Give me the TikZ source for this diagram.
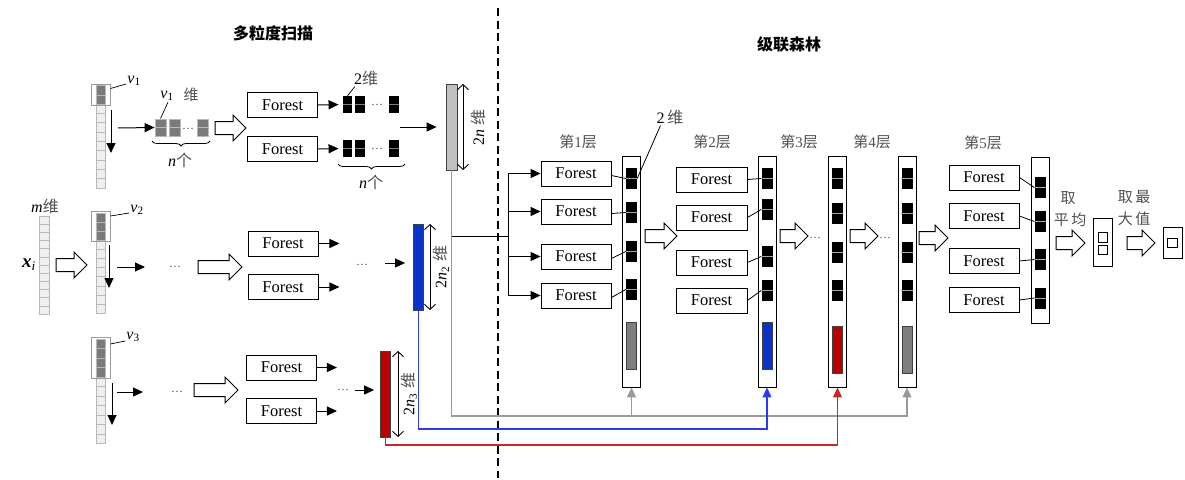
\documentclass[tikz,border=0pt]{standalone}
\usepackage{fontspec}
\setmainfont{Liberation Serif}
\newfontfamily\cjk{Noto Sans CJK SC}
\usetikzlibrary{arrows.meta,decorations.pathreplacing,calc}
\definecolor{cellbg}{HTML}{EFEFEF}
\definecolor{cellln}{HTML}{B8B8B8}
\definecolor{dcell}{HTML}{7A7A7A}
\definecolor{winln}{HTML}{9A9A9A}
\definecolor{lgbar}{HTML}{C0C0C0}
\definecolor{mgbar}{HTML}{7F7F7F}
\definecolor{bbar}{HTML}{0A33C8}
\definecolor{rbar}{HTML}{BB0000}
\definecolor{gline}{HTML}{9A9A9A}
\definecolor{bline}{HTML}{2A3AF0}
\definecolor{rline}{HTML}{C42A2A}
\definecolor{zhgrey}{HTML}{505050}
\newcommand\zh[1]{{\cjk\color{zhgrey}#1}}
\newcommand\harrow[3]{%
  \draw[hollow] ({#1},{#3-6.5}) -- ({#2-13},{#3-6.5}) -- ({#2-13},{#3-13}) -- ({#2},{#3}) -- ({#2-13},{#3+13}) -- ({#2-13},{#3+6.5}) -- ({#1},{#3+6.5}) -- cycle;}
\newcommand\vcol[5]{%
  \foreach \i in {1,...,#3} {\draw[cell] ({#1},{#2+(\i-1)*#4}) rectangle ++(#5,#4);}}
\newcommand\dcells[4]{%
  \foreach \i in {1,...,#3} {\draw[dcellst] ({#1},{#2+(\i-1)*#4}) rectangle ++(9,#4);}}
\newcommand\blkn[3]{\node[blk] (#1) at (#2,#3) {}; \draw[gray!70, line width=0.4pt] (#1.west) -- (#1.east);}
\newcommand\gel[3]{\node[gelst] (#1) at (#2,#3) {}; \draw[cellln, line width=0.6pt] (#1.west) -- (#1.east);}
\newcommand\ele[3]{\node[elest] (#1) at (#2,#3) {}; \draw[gray, line width=0.5pt] (#1.west) -- (#1.east);}
\tikzset{
  forest/.style={draw, line width=0.9pt, minimum width=70pt, minimum height=25pt, inner sep=0pt, font=\fontsize{16.5}{18}\selectfont},
  col/.style={draw, line width=0.9pt, fill=white, minimum width=18pt, inner sep=0pt},
  blk/.style={fill=black, minimum width=11pt, minimum height=21pt, inner sep=0pt},
  gelst/.style={fill=dcell, draw=cellln, line width=0.8pt, minimum width=11pt, minimum height=17pt, inner sep=0pt},
  elest/.style={fill=black, minimum width=9.5pt, minimum height=17pt, inner sep=0pt},
  bar/.style={draw=black!75, line width=0.8pt, minimum width=10pt, inner sep=0pt},
  arr/.style={-{Triangle[length=10pt,width=9pt]}, line width=1pt},
  carr/.style={-{Triangle[length=10pt,width=9pt]}, line width=1.1pt, draw=#1},
  hollow/.style={draw, line width=1pt, fill=white},
  cell/.style={fill=cellbg, draw=cellln, line width=0.5pt},
  dcellst/.style={fill=dcell, draw=cellln, line width=0.5pt},
  win/.style={draw=winln, line width=1pt, minimum width=19pt, inner sep=0pt},
  dim/.style={{Straight Barb[length=5pt,width=11pt]}-{Straight Barb[length=5pt,width=11pt]}, line width=0.9pt},
  zht/.style={inner sep=0pt, font=\fontsize{15}{17}\selectfont\cjk, text=zhgrey},
  lbl/.style={inner sep=0pt, font=\fontsize{16}{18}\selectfont},
  dots/.style={inner sep=0pt, font=\fontsize{12}{14}\selectfont, text=black!70},
  brace/.style={decorate, decoration={brace, mirror, amplitude=5pt}, line width=0.8pt},
  sq/.style={draw, line width=0.8pt, minimum width=9.5pt, minimum height=9.5pt, inner sep=0pt},
  obox/.style={draw, line width=0.9pt, minimum width=19pt, inner sep=0pt}
}
\begin{document}
\begin{tikzpicture}[x=1pt,y=-1pt]
\useasboundingbox (0,0) rectangle (1185,479);
% titles
\node[font=\fontsize{16}{18}\selectfont\cjk\bfseries] (t1) at (273,33) {多粒度扫描};
\node[font=\fontsize{16}{18}\selectfont\cjk\bfseries] (t2) at (789,44) {级联森林};
\draw[line width=1.2pt, dash pattern=on 8pt off 4.5pt] (498,8) -- (498,478);
% input vector
\vcol{39}{216}{12}{8.17}{10}
\node[lbl] (mlab) at (45,206) {\textit{m}\zh{维}};
\node[inner sep=0pt, font=\fontsize{19}{20}\selectfont] (xi) at (29,265) {\textbf{\textit{x}}\textsubscript{\textit{i}}};
\harrow{56}{87}{265}
% ---- row 1
\vcol{96}{85.5}{11}{9.3}{9}
\dcells{96}{85.5}{2}{9.3}
\node[win, minimum height=21.6pt] (w1) at (100.5,94.8) {};
\node[lbl] (v1) at (134,81) {\textit{v}\textsubscript{1}};
\draw[line width=0.7pt] ($(w1.north east)+(0,5)$) -- ($(v1.west)+(-1,3)$);
\draw[arr] (111,110) -- (111,153);
\gel{g11}{160.5}{127.5}
\gel{g12}{174.5}{127.5}
\gel{g13}{202.5}{127.5}
\node[dots] (dg) at (188,129) {…};
\draw[arr] (118,128) -- (g11.west);
\node[lbl] (v1b) at (167,96) {\textit{v}\textsubscript{1}};
\node[zht] (wv1) at (191,95) {维};
\draw[line width=0.7pt] (g11.north) -- ($(v1b.south)+(1,1)$);
\draw[brace] (152,141) -- (210,141);
\node[lbl] (n1) at (180,160) {\textit{n}\zh{个}};
\harrow{215}{246}{128}
\node[forest] (fa1) at (282.5,105) {Forest};
\node[forest] (fa2) at (282.5,149) {Forest};
\ele{e11}{347.5}{104.5}
\ele{e12}{360}{104.5}
\ele{e13}{394}{104.5}
\ele{e21}{347.5}{148.5}
\ele{e22}{360}{148.5}
\ele{e23}{394}{148.5}
\node[dots] (de1) at (377,105) {…};
\node[dots] (de2) at (377,149) {…};
\draw[arr, shorten >=4pt] (fa1.east) -- (e11.west);
\draw[arr, shorten >=4pt] (fa2.east) -- (e21.west);
\node[lbl] (l2a) at (366,78) {2\zh{维}};
\draw[line width=0.7pt] (e11.north) -- ($(l2a.south west)+(1,1)$);
\draw[brace] (338,164) -- (405,164);
\node[lbl] (n2) at (371,182) {\textit{n}\zh{个}};
\node[bar, fill=lgbar, minimum height=86pt, minimum width=11pt] (gbar) at (451.5,127) {};
\draw[arr, shorten >=9pt] (400,127) -- (gbar.west);
\draw[dim] (463,84) -- (463,170);
\node[lbl, rotate=90] (gdim) at (478,127) {2\textit{n} \zh{维}};
% ---- row 2
\vcol{96}{213}{11}{9.1}{9}
\dcells{96}{213}{3}{9.1}
\node[win, minimum height=30.3pt] (w2) at (100.5,226.65) {};
\node[lbl] (v2) at (137,210) {\textit{v}\textsubscript{2}};
\draw[line width=0.7pt] ($(w2.north east)+(0,5)$) -- ($(v2.west)+(-1,3)$);
\draw[arr] (109,245) -- (109,288);
\draw[arr] (117,267) -- (145,267);
\node[dots] (d21) at (175,267) {…};
\harrow{198}{242}{267}
\node[forest] (fb1) at (283,243.5) {Forest};
\node[forest] (fb2) at (283,287) {Forest};
\draw[arr] (fb1.east) -- ++(21,0);
\draw[arr] (fb2.east) -- ++(21,0);
\node[dots] (d22) at (362,265) {…};
\node[bar, fill=bbar, minimum height=86pt] (bbr) at (418.5,267) {};
\draw[arr, shorten >=8pt] (385,263) -- (bbr.west |- 0,263);
\draw[dim] (430,224) -- (430,310);
\node[lbl, rotate=90] (bdim) at (441,267) {2\textit{n}\textsubscript{2} \zh{维}};
% ---- row 3
\vcol{96}{339}{11}{9.5}{9}
\dcells{96}{339}{4}{9.5}
\node[win, minimum height=41pt] (w3) at (100.5,358) {};
\node[lbl] (v3) at (133,337) {\textit{v}\textsubscript{3}};
\draw[line width=0.7pt] ($(w3.north east)+(0,7)$) -- ($(v3.west)+(-1,4)$);
\draw[arr] (112,383) -- (112,425);
\draw[arr] (117,392) -- (143,392);
\node[dots] (d31) at (177,392) {…};
\harrow{194}{238}{390}
\node[forest] (fc1) at (281.5,367.5) {Forest};
\node[forest] (fc2) at (281.5,411) {Forest};
\draw[arr] (fc1.east) -- ++(20,0);
\draw[arr] (fc2.east) -- ++(20,0);
\node[dots] (d32) at (343,390) {…};
\node[bar, fill=rbar, minimum height=86pt] (rbr) at (385.5,394) {};
\draw[arr, shorten >=6pt] (355,390) -- (rbr.west |- 0,390);
\draw[dim] (398,351) -- (398,437);
\node[lbl, rotate=90] (rdim) at (409,394) {2\textit{n}\textsubscript{3} \zh{维}};
% ---- cascade layers
\node[col, minimum height=231pt] (c1) at (631.5,271.5) {};
\node[col, minimum height=231pt] (c2) at (767,271.5) {};
\node[col, minimum height=231pt] (c3) at (837.5,271.5) {};
\node[col, minimum height=231pt] (c4) at (907,271.5) {};
\node[col, minimum height=166pt] (c5) at (1040,240) {};
\node[bar, fill=mgbar, minimum height=47pt] (cb1) at (631,345.5) {};
\node[bar, fill=bbar, minimum height=47pt] (cb2) at (767,345.5) {};
\node[bar, fill=rbar, minimum height=47pt] (cb3) at (837.5,349.5) {};
\node[bar, fill=mgbar, minimum height=47pt] (cb4) at (907,349.5) {};
\foreach \k/\y in {1/173.5,2/211.5,3/256.5,4/295.5} {\node[forest] (f1\k) at (576,\y) {Forest};}
\foreach \k/\y in {1/178.5,2/212.5,3/251.5,4/289.5} {\blkn{b1\k}{631.5}{\y}}
\foreach \k in {1,...,4} {\draw[line width=0.8pt] ($(f1\k.east)+(0,2)$) -- (b1\k.west);}
\foreach \k/\y in {1/179.5,2/217.5,3/262.5,4/300.5} {\node[forest, minimum width=71pt] (f2\k) at (711.5,\y) {Forest};}
\foreach \k/\y in {1/178.5,2/209.5,3/256.5,4/290.5} {\blkn{b2\k}{767}{\y}}
\foreach \k in {1,...,4} {\draw[line width=0.8pt] (f2\k.east) -- (b2\k.west);}
\foreach \k/\y in {1/178.5,2/213,3/252.5,4/290.5} {\blkn{b3\k}{837.5}{\y}}
\foreach \k/\y in {1/178.5,2/213,3/252.5,4/290.5} {\blkn{b4\k}{907}{\y}}
\foreach \k/\y in {1/177.5,2/216,3/261,4/300} {\node[forest] (f5\k) at (984,\y) {Forest};}
\foreach \k/\y in {1/187.5,2/221.5,3/259.5,4/298} {\blkn{b5\k}{1040}{\y}}
\foreach \k in {1,...,4} {\draw[line width=0.8pt] (f5\k.east) -- (b5\k.west);}
% layer titles
\node[zht] (L1) at (578,142) {第{\rmfamily 1}层};
\node[zht] (L2) at (712,142) {第{\rmfamily 2}层};
\node[zht] (L3) at (799,142) {第{\rmfamily 3}层};
\node[zht] (L4) at (872,142) {第{\rmfamily 4}层};
\node[zht] (L5) at (983,143) {第{\rmfamily 5}层};
\node[lbl] (l2b) at (670,117) {2\,\zh{维}};
\draw[line width=0.8pt] (b11.east) -- ($(l2b.south west)+(4,1)$);
% feed from scanning
\coordinate (trunk) at (508,236);
\draw[line width=1pt] (gbar.south |- trunk) -- (trunk);
\draw[line width=1pt] (trunk |- f11.west) -- (trunk |- f14.west);
\foreach \k in {1,...,4} {\draw[arr] (trunk |- f1\k.west) -- (f1\k.west);}
\harrow{645}{677}{236}
\harrow{780}{808}{236}
\node[dots] (dl1) at (815,238) {…};
\harrow{850}{878}{236}
\node[dots] (dl2) at (885,238) {…};
\harrow{919}{948}{238}
% multi-grained vectors to layers
\coordinate (yg) at (0,416);
\coordinate (yb) at (0,429);
\coordinate (yr) at (0,445);
\draw[carr=gline] (gbar.south) -- (gbar.south |- yg) -| (c4.south);
\draw[carr=gline] (c1.south |- yg) -- (c1.south);
\draw[carr=bline] (bbr.south) -- (bbr.south |- yb) -| (c2.south);
\draw[carr=rline] (rbr.south) -- (rbr.south |- yr) -| (c3.south);
% output
\node[zht] (qu) at (1068,198) {取};
\node[zht] (pj) at (1070,220) {平\,均};
\harrow{1056}{1085}{243}
\node[obox, minimum height=48pt] (avg) at (1102.5,242) {};
\node[sq] (s1) at (1103,237.5) {};
\node[sq] (s2) at (1103,250) {};
\node[zht] (qz) at (1134,197) {取\,最};
\node[zht] (dz) at (1134,219) {大\,值};
\harrow{1127}{1155}{243}
\node[obox, minimum height=31pt] (mx) at (1172.5,242.5) {};
\node[sq] (s3) at (1172.5,243) {};
\end{tikzpicture}
\end{document}
